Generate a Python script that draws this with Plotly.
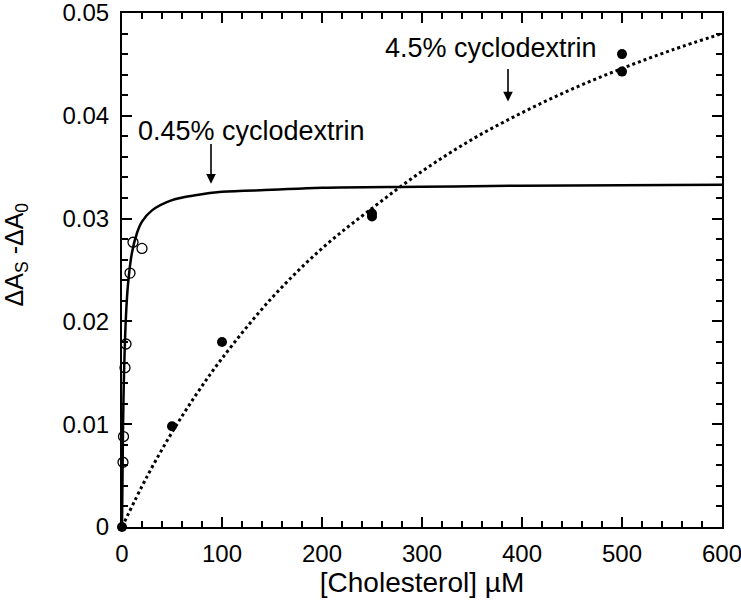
import plotly.graph_objects as go

# open circles, 0.45% cyclodextrin
low_x = [1, 1.5, 3, 4, 8, 11, 20]
low_y = [0.0063, 0.0088, 0.0155, 0.0178, 0.0247, 0.0277, 0.0271]

# filled circles, 4.5% cyclodextrin
high_x = [0, 50, 100, 250, 250, 500, 500]
high_y = [0, 0.0098, 0.018, 0.0305, 0.0302, 0.046, 0.0443]

# fitted curves
fit_low_x = [0, 1, 2, 4, 6, 10, 15, 20, 30, 50, 75, 100, 150, 200, 300, 400, 600]
fit_low_y = [0, 0.0095, 0.0148, 0.0206, 0.0236, 0.0267, 0.0286, 0.0297, 0.0308,
             0.0318, 0.0323, 0.0326, 0.0328, 0.0330, 0.0331, 0.0332, 0.0333]

fit_high_x = [0, 25, 50, 75, 100, 150, 200, 250, 300, 350, 400, 450, 500, 550, 600]
fit_high_y = [0, 0.0049, 0.0092, 0.0130, 0.0164, 0.0223, 0.0271, 0.0310, 0.0346,
              0.0377, 0.0403, 0.0426, 0.0446, 0.0464, 0.0480]

y_ticks = [0, 0.01, 0.02, 0.03, 0.04, 0.05]
y_ticklabels = ["0", "0.01", "0.02", "0.03", "0.04", "0.05"]
x_ticks = [0, 100, 200, 300, 400, 500, 600]

FONT = "Liberation Sans, Arial, Helvetica, sans-serif"

fig = go.Figure()

fig.add_trace(go.Scatter(
    x=fit_low_x, y=fit_low_y, mode="lines",
    line=dict(color="black", width=2.5, shape="spline"),
    showlegend=False, hoverinfo="skip"
))
fig.add_trace(go.Scatter(
    x=fit_high_x, y=fit_high_y, mode="lines",
    line=dict(color="black", width=3, dash="dot", shape="spline"),
    showlegend=False, hoverinfo="skip"
))

fig.add_trace(go.Scatter(
    x=low_x, y=low_y, mode="markers",
    marker=dict(symbol="circle-open", size=10, color="black", line=dict(width=1.3)),
    showlegend=False, cliponaxis=False
))
fig.add_trace(go.Scatter(
    x=high_x, y=high_y, mode="markers",
    marker=dict(symbol="circle", size=10, color="black"),
    showlegend=False, cliponaxis=False
))

# invisible trace so the mirrored top/right axes get drawn
fig.add_trace(go.Scatter(x=[0], y=[0], xaxis="x2", yaxis="y2", mode="markers",
                         marker=dict(opacity=0), showlegend=False, hoverinfo="skip"))

# labels with arrows
fig.add_annotation(x=89, y=0.0334, ax=89, ay=0.0374, axref="x", ayref="y",
                   text="", showarrow=True, arrowhead=2, arrowsize=1.2,
                   arrowwidth=1.6, arrowcolor="black")
fig.add_annotation(x=129, y=0.0385, text="0.45% cyclodextrin", showarrow=False,
                   font=dict(size=27, color="black", family=FONT))
fig.add_annotation(x=386, y=0.0414, ax=386, ay=0.0447, axref="x", ayref="y",
                   text="", showarrow=True, arrowhead=2, arrowsize=1.2,
                   arrowwidth=1.6, arrowcolor="black")
fig.add_annotation(x=369, y=0.0466, text="4.5% cyclodextrin", showarrow=False,
                   font=dict(size=27, color="black", family=FONT))

# y-axis title, placed by hand (sits a bit above the plot centre)
fig.add_annotation(x=-0.177, y=0.53, xref="paper", yref="paper", textangle=-90,
                   text="ΔA<sub>S</sub> -ΔA<sub>0</sub>", showarrow=False,
                   xanchor="center", yanchor="middle",
                   font=dict(size=25, color="black", family=FONT))

tick_common = dict(ticks="inside", ticklen=10, tickwidth=1.5, tickcolor="black")
axis_common = dict(
    showgrid=False, zeroline=False, showline=True, linecolor="black", linewidth=2,
    tickfont=dict(size=24, color="black", family=FONT), ticklabeloverflow="allow",
    **tick_common
)
minor_x = dict(dtick=20, ticks="inside", ticklen=6, tickwidth=1.5, tickcolor="black")
minor_y = dict(dtick=0.002, ticks="inside", ticklen=6, tickwidth=1.5, tickcolor="black")

fig.update_layout(
    xaxis=dict(range=[0, 600], tickvals=x_ticks, minor=minor_x, ticklabelstandoff=4,
               title=dict(text="[Cholesterol] µM", font=dict(size=28, color="black", family=FONT), standoff=6),
               **axis_common),
    yaxis=dict(range=[0, 0.05], tickvals=y_ticks, ticktext=y_ticklabels, minor=minor_y,
               ticklabelstandoff=6, **axis_common),
    xaxis2=dict(range=[0, 600], dtick=100, minor=minor_x, overlaying="x", side="top",
                showticklabels=False, showgrid=False, zeroline=False, showline=True,
                linecolor="black", linewidth=2, **tick_common),
    yaxis2=dict(range=[0, 0.05], dtick=0.01, minor=minor_y, overlaying="y", side="right",
                showticklabels=False, showgrid=False, zeroline=False, showline=True,
                linecolor="black", linewidth=2, **tick_common),
    width=741, height=605,
    margin=dict(l=122, r=19, t=13, b=78, autoexpand=False),
    plot_bgcolor="white", paper_bgcolor="white",
    font=dict(family=FONT, color="black"),
)

# drop the default page margin so the figure fills the window exactly
fig.write_html("out.html", config={"displayModeBar": False},
               post_script="document.body.style.margin='0';")
